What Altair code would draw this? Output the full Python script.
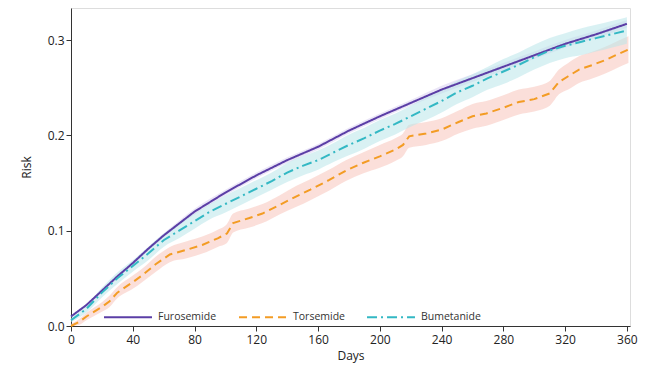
import altair as alt
import pandas as pd

series_names = ["Furosemide", "Torsemide", "Bumetanide"]
line_colors = ["#5b3ea6", "#f39c24", "#33b8c4"]
band_colors = ["#d9cff0", "#f8c4bb", "#b9e6e9"]

fur_days = [0, 10, 20, 30, 40, 50, 60, 80, 100, 120, 140, 160, 180, 200, 220, 240, 260, 280, 300, 320, 340, 360]
fur_risk = [0.010, 0.022, 0.037, 0.052, 0.066, 0.081, 0.095, 0.120, 0.140, 0.158, 0.174, 0.188, 0.205, 0.220, 0.234, 0.248, 0.260, 0.272, 0.284, 0.296, 0.306, 0.317]
fur_hw = [0.001, 0.001, 0.002, 0.002, 0.002, 0.002, 0.002, 0.003, 0.003, 0.003, 0.003, 0.003, 0.003, 0.003, 0.003, 0.004, 0.004, 0.004, 0.004, 0.004, 0.004, 0.004]

tor_days = [0, 5, 10, 20, 25, 30, 40, 46, 55, 64, 75, 85, 95, 101, 105, 115, 124, 135, 146, 155, 167, 178, 189, 200, 210, 215, 219, 230, 240, 251, 260, 269, 280, 290, 300, 310, 316, 322, 329, 338, 346, 354, 361]
tor_risk = [0.000, 0.004, 0.010, 0.020, 0.026, 0.035, 0.046, 0.053, 0.065, 0.075, 0.080, 0.085, 0.092, 0.097, 0.108, 0.113, 0.118, 0.127, 0.136, 0.143, 0.153, 0.163, 0.171, 0.178, 0.185, 0.190, 0.199, 0.202, 0.206, 0.214, 0.220, 0.223, 0.229, 0.235, 0.238, 0.244, 0.256, 0.262, 0.269, 0.274, 0.279, 0.285, 0.290]
tor_hw = [0.002, 0.003, 0.004, 0.005, 0.006, 0.006, 0.007, 0.007, 0.008, 0.008, 0.009, 0.009, 0.009, 0.010, 0.010, 0.010, 0.010, 0.010, 0.011, 0.011, 0.011, 0.011, 0.011, 0.012, 0.012, 0.012, 0.012, 0.012, 0.012, 0.012, 0.013, 0.013, 0.013, 0.013, 0.013, 0.013, 0.013, 0.014, 0.014, 0.014, 0.014, 0.014, 0.014]

bum_days = [0, 10, 20, 30, 40, 50, 60, 70, 80, 90, 100, 110, 120, 130, 140, 150, 160, 170, 180, 190, 200, 210, 220, 230, 240, 250, 260, 270, 280, 290, 300, 310, 320, 330, 340, 350, 360]
bum_risk = [0.006, 0.018, 0.035, 0.050, 0.063, 0.076, 0.090, 0.100, 0.110, 0.120, 0.128, 0.136, 0.144, 0.152, 0.161, 0.168, 0.174, 0.182, 0.190, 0.197, 0.205, 0.212, 0.220, 0.228, 0.236, 0.245, 0.252, 0.260, 0.267, 0.274, 0.282, 0.289, 0.294, 0.298, 0.302, 0.306, 0.310]
bum_hw = [0.002, 0.004, 0.005, 0.006, 0.006, 0.007, 0.007, 0.008, 0.008, 0.008, 0.009, 0.009, 0.009, 0.009, 0.010, 0.010, 0.010, 0.010, 0.011, 0.011, 0.011, 0.011, 0.011, 0.012, 0.012, 0.012, 0.012, 0.012, 0.013, 0.013, 0.013, 0.013, 0.013, 0.014, 0.014, 0.014, 0.014]

x_ticks = [0, 40, 80, 120, 160, 200, 240, 280, 320, 360]
y_ticks = [0.0, 0.1, 0.2, 0.3]

rows = []
for name, d, r, h in [("Furosemide", fur_days, fur_risk, fur_hw),
                      ("Torsemide", tor_days, tor_risk, tor_hw),
                      ("Bumetanide", bum_days, bum_risk, bum_hw)]:
    for di, ri, hi in zip(d, r, h):
        rows.append({"Drug": name, "Days": di, "Risk": ri, "lo": max(ri - hi, 0), "hi": ri + hi})
df = pd.DataFrame(rows)

FONT = "Open Sans"
xscale = alt.Scale(domain=[0, 362], nice=False, zero=False)
yscale = alt.Scale(domain=[0, 0.3336], nice=False)

base = alt.Chart(df)

band_layers = []
for name, col in zip(series_names, band_colors):
    band_layers.append(
        base.transform_filter(alt.datum.Drug == name)
        .mark_area(opacity=0.55, interpolate="monotone", color=col)
        .encode(x=alt.X("Days:Q", scale=xscale), y=alt.Y("lo:Q", scale=yscale), y2="hi:Q")
    )

legend_cfg = dict(title=None, orient="none", legendX=32, legendY=284,
                  direction="horizontal", symbolType="stroke",
                  symbolSize=2300, symbolStrokeWidth=2,
                  labelFont=FONT, labelFontSize=10.5, labelColor="#333",
                  columnPadding=18, labelOffset=5)

lines = base.mark_line(strokeWidth=2).encode(
    x=alt.X("Days:Q", scale=xscale,
            axis=alt.Axis(title="Days", values=x_ticks, grid=False, tickSize=5,
                          labelFont=FONT, labelFontSize=12, titleFont=FONT, titleFontSize=12,
                          titleFontWeight="normal", labelColor="#222", titleColor="#222",
                          domainColor="#333", tickColor="#333", labelPadding=3, titlePadding=5,
                          labelFlush=False)),
    y=alt.Y("Risk:Q", scale=yscale,
            axis=alt.Axis(title="Risk", values=y_ticks, format=".1f", grid=False, tickSize=5,
                          labelFont=FONT, labelFontSize=12, titleFont=FONT, titleFontSize=12,
                          titleFontWeight="normal", labelColor="#222", titleColor="#222",
                          domainColor="#333", tickColor="#333", titlePadding=14)),
    color=alt.Color("Drug:N", scale=alt.Scale(domain=series_names, range=line_colors),
                    legend=alt.Legend(**legend_cfg)),
    strokeDash=alt.StrokeDash("Drug:N", scale=alt.Scale(domain=series_names,
                                                        range=[[1, 0], [8, 5], [10, 4, 2, 4]]),
                              legend=alt.Legend(**legend_cfg)),
)

chart = alt.layer(*band_layers, lines).properties(
    width=559, height=318,
    autosize=alt.AutoSizeParams(type="none"),
    padding={"left": 63, "top": 0, "right": 8, "bottom": 46},
).configure_view(stroke=None).configure(background="white")

chart.save("out.html", embed_options={"renderer": "svg", "actions": False})
